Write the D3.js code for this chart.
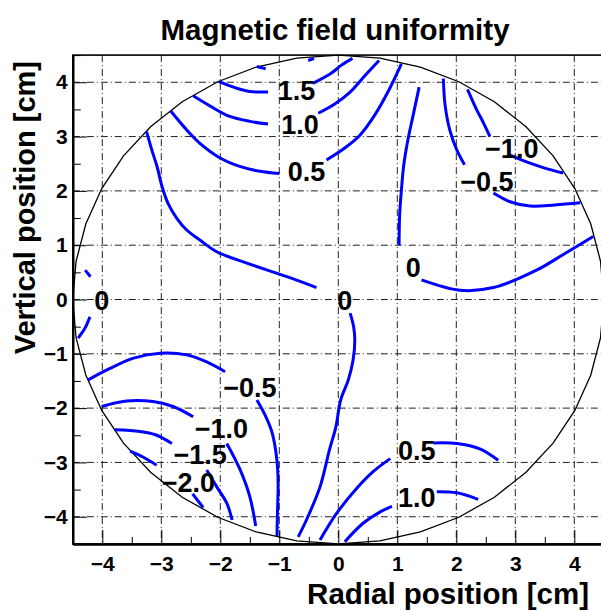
<!DOCTYPE html>
<html><head><meta charset="utf-8">
<script src="https://cdn.jsdelivr.net/npm/d3@7"></script>
<style>
html,body{margin:0;padding:0;background:#fff;overflow:hidden;}
svg{display:block;font-family:"Liberation Sans",Arial,Helvetica,sans-serif;font-weight:bold;}
</style></head><body>
<script>
// ---------- data ----------
const titleText = "Magnetic field uniformity";
const xTitle = "Radial position [cm]";
const yTitle = "Vertical position [cm]";
const xMajorTicks = [-4,-3,-2,-1,0,1,2,3,4];
const yMajorTicks = [-4,-3,-2,-1,0,1,2,3,4];
const minorTicks = [-4.5,-3.5,-2.5,-1.5,-0.5,0.5,1.5,2.5,3.5,4.5];
const circleRadius = 4.5;

// contour polylines (x [cm], y [cm]) with their level
const contourLevels = [2.0, 2.0, 1.5, 1.5, 1.0, 1.0, 0.5, 0.5, 0, 0, 0, 0, 0, 0,
  -0.5, -0.5, -1.0, -1.0, -0.5, -0.5, -1.0, -1.0, -1.5, -1.5, -2.0, -2.0, 0.5, 0.5, 1.0, 1.0];
const contourLines = [
  [[-1.38,4.29],[-1.23,4.25]],
  [[-0.51,4.40],[-0.41,4.44]],
  [[-2.02,4.01],[-1.75,3.90],[-1.50,3.83],[-1.19,3.82]],
  [[-0.43,3.98],[-0.14,4.15],[0.06,4.32],[0.24,4.44]],
  [[-2.46,3.75],[-2.17,3.56],[-1.84,3.37],[-1.50,3.28],[-1.19,3.23]],
  [[-0.34,3.43],[-0.06,3.60],[0.20,3.82],[0.45,4.12],[0.69,4.40]],
  [[-2.84,3.47],[-2.60,3.16],[-2.35,2.88],[-2.01,2.61],[-1.67,2.45],[-1.33,2.36],[-1.00,2.32]],
  [[-0.20,2.57],[0.11,2.79],[0.37,3.03],[0.62,3.40],[0.84,3.82],[1.07,4.34]],
  [[-3.25,3.09],[-3.16,2.75],[-3.07,2.44],[-2.99,2.09],[-2.89,1.78],[-2.74,1.50],[-2.57,1.28],[-2.34,1.09],[-2.06,0.88],[-1.55,0.67],[-0.87,0.42],[-0.37,0.22]],
  [[1.37,3.91],[1.27,3.40],[1.18,2.94],[1.11,2.48],[1.07,2.02],[1.04,1.56],[1.03,1.00]],
  [[1.41,0.36],[2.06,0.17],[2.63,0.22],[3.36,0.54],[3.80,0.82],[4.32,1.16]],
  [[0.20,-0.25],[0.26,-0.50],[0.28,-0.75],[0.25,-1.12],[0.17,-1.48],[0.04,-1.85],[-0.04,-2.34],[-0.15,-2.77],[-0.31,-3.45],[-0.54,-4.06],[-0.68,-4.37]],
  [[-4.29,0.54],[-4.20,0.42]],
  [[-4.21,-0.32],[-4.29,-0.52],[-4.41,-0.71]],
  [[1.78,4.07],[1.81,3.58],[1.89,3.12],[2.01,2.75],[2.14,2.48]],
  [[2.63,1.96],[2.91,1.80],[3.25,1.72],[3.67,1.74],[4.10,1.78]],
  [[2.19,3.87],[2.33,3.53],[2.47,3.23],[2.57,3.00]],
  [[2.91,2.66],[3.25,2.51],[3.50,2.42],[3.81,2.33]],
  [[-4.24,-1.48],[-3.87,-1.27],[-3.47,-1.08],[-3.02,-0.99],[-2.57,-1.02],[-2.23,-1.15],[-1.92,-1.33]],
  [[-1.38,-1.85],[-1.24,-2.13],[-1.12,-2.46],[-1.04,-2.96],[-1.02,-3.38],[-1.03,-3.88],[-1.04,-4.36]],
  [[-4.01,-1.97],[-3.59,-1.87],[-3.14,-1.88],[-2.80,-1.97],[-2.46,-2.16]],
  [[-1.89,-2.65],[-1.67,-3.12],[-1.50,-3.63],[-1.40,-4.17]],
  [[-3.79,-2.40],[-3.36,-2.43],[-3.10,-2.49],[-2.82,-2.65]],
  [[-2.23,-3.14],[-2.06,-3.45],[-1.89,-3.75],[-1.80,-4.06]],
  [[-3.53,-2.79],[-3.31,-2.90],[-3.08,-3.05]],
  [[-2.47,-3.58],[-2.29,-3.83]],
  [[-0.31,-4.43],[-0.03,-3.94],[0.31,-3.48],[0.59,-3.17],[0.88,-2.93]],
  [[1.61,-2.64],[2.01,-2.65],[2.40,-2.75],[2.71,-2.96]],
  [[0.11,-4.46],[0.42,-4.12],[0.71,-3.91],[0.91,-3.81]],
  [[1.67,-3.54],[2.01,-3.56],[2.37,-3.68]]
];

// contour labels: text and anchor position (x [cm], y [cm])
const labelTexts = ["1.5","1.0","0.5","\u22121.0","\u22120.5","0","0","0","\u22120.5","\u22121.0","\u22121.5","\u22122.0","0.5","1.0"];
const labelX = [-0.71,-0.65,-0.54, 2.94, 2.52, 1.27, 0.11,-4.01,-1.50,-1.98,-2.34,-2.54, 1.33, 1.33];
const labelY = [ 3.85, 3.23, 2.37, 2.78, 2.17, 0.60,-0.01,-0.01,-1.61,-2.37,-2.85,-3.36,-2.77,-3.64];

// ---------- drawing ----------
const W = 601, H = 611;
const svg = d3.select("body").append("svg").attr("width", W).attr("height", H);

const x = d3.scaleLinear().domain([-4.5, 4.5]).range([72.8, 603.8]);
const y = d3.scaleLinear().domain([-4.5, 4.5]).range([543.9, 55.1]);
const fLeft = x(-4.5), fRight = x(4.5), fTop = y(4.5), fBottom = y(-4.5);

// grid
const grid = svg.append("g").attr("stroke", "#222").attr("stroke-width", 1)
  .attr("stroke-dasharray", "7,3,1,3").attr("fill", "none");
grid.selectAll("line.v").data(xMajorTicks).join("line").attr("class", "v")
  .attr("x1", d => x(d)).attr("x2", d => x(d)).attr("y1", fTop).attr("y2", fBottom);
grid.selectAll("line.h").data(yMajorTicks).join("line").attr("class", "h")
  .attr("x1", fLeft).attr("x2", fRight).attr("y1", d => y(d)).attr("y2", d => y(d));

// circle boundary
const angles = d3.range(0, 361, 9);
const circ = d3.line().x(a => x(circleRadius * Math.cos(a * Math.PI / 180)))
  .y(a => y(circleRadius * Math.sin(a * Math.PI / 180)));
svg.append("path").attr("d", circ(angles)).attr("fill", "none")
  .attr("stroke", "#000").attr("stroke-width", 1.3);

// contours
const line = d3.line().x(d => x(d[0])).y(d => y(d[1])).curve(d3.curveCatmullRom.alpha(0.5));
svg.append("g").selectAll("path").data(contourLines).join("path")
  .attr("d", d => line(d)).attr("fill", "none").attr("stroke", "#0000ff")
  .attr("stroke-width", 3).attr("stroke-linecap", "butt")
  .attr("data-level", (d, i) => contourLevels[i]);

// contour labels
svg.append("g").selectAll("text").data(labelTexts).join("text")
  .attr("x", (d, i) => x(labelX[i])).attr("y", (d, i) => y(labelY[i]))
  .attr("dy", "0.36em").attr("text-anchor", "middle")
  .attr("font-size", 27).attr("fill", "#000").text(d => d);

// frame
svg.append("rect").attr("x", fLeft).attr("y", fTop).attr("width", fRight - fLeft).attr("height", fBottom - fTop)
  .attr("fill", "none").attr("stroke", "#000").attr("stroke-width", 1.6);

// axes
const xAxis = svg.append("g").attr("transform", `translate(0,${fBottom})`)
  .call(d3.axisBottom(x).tickValues(xMajorTicks).tickSize(-14).tickSizeOuter(0).tickPadding(12));
const xMinor = svg.append("g").attr("transform", `translate(0,${fBottom})`)
  .call(d3.axisBottom(x).tickValues(minorTicks).tickSize(-7).tickSizeOuter(0).tickFormat(""));
const yAxis = svg.append("g").attr("transform", `translate(${fLeft},0)`)
  .call(d3.axisLeft(y).tickValues(yMajorTicks).tickSize(-14).tickSizeOuter(0).tickPadding(5));
const yMinor = svg.append("g").attr("transform", `translate(${fLeft},0)`)
  .call(d3.axisLeft(y).tickValues(minorTicks).tickSize(-8).tickSizeOuter(0).tickFormat(""));
[xAxis, yAxis].forEach(g => {
  g.selectAll("text").attr("font-size", 21).attr("font-family", "Liberation Sans, Arial, sans-serif")
    .attr("font-weight", "bold").attr("fill", "#000");
});
[xAxis, xMinor, yAxis, yMinor].forEach(g => {
  g.select(".domain").attr("stroke", "#000").attr("stroke-width", 2);
  g.selectAll(".tick line").attr("stroke", "#000").attr("stroke-width", 1);
});

// titles
svg.append("text").attr("x", 335).attr("y", 40).attr("text-anchor", "middle")
  .attr("font-size", 29.5).text(titleText);
svg.append("text").attr("x", 589).attr("y", 604).attr("text-anchor", "end")
  .attr("font-size", 29.5).text(xTitle);
svg.append("text").attr("transform", "translate(35,61) rotate(-90)").attr("text-anchor", "end")
  .attr("font-size", 29).text(yTitle);
</script>
</body></html>
